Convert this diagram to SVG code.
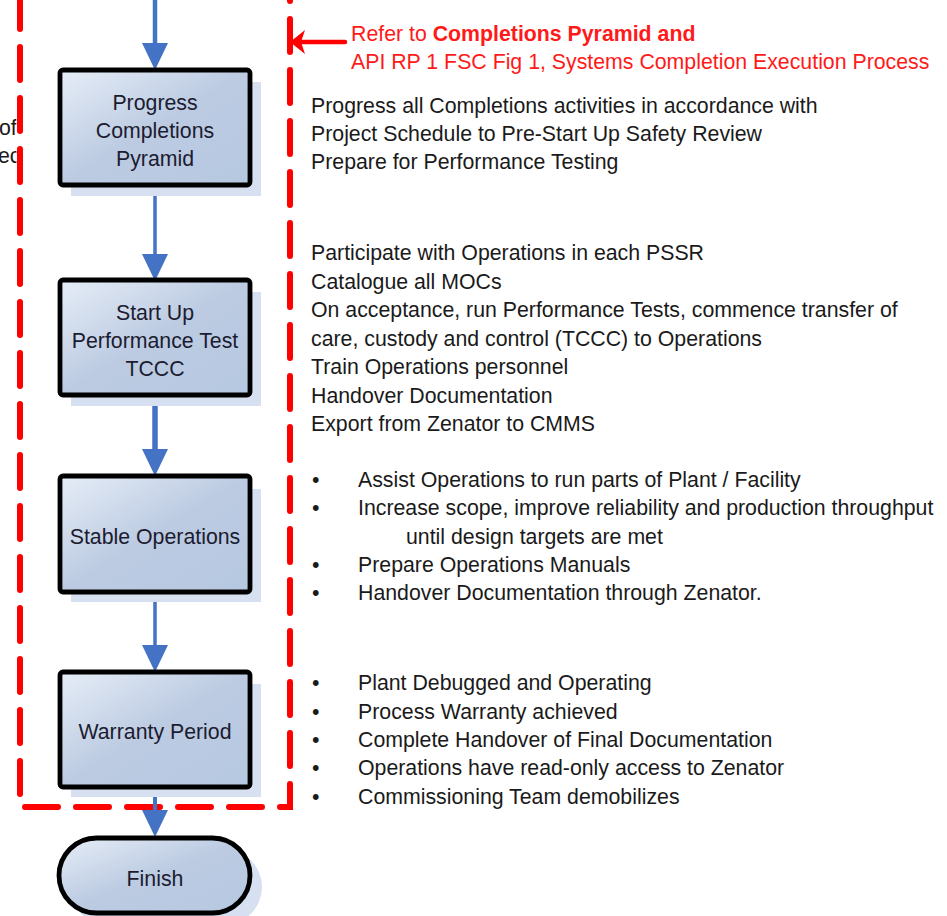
<svg xmlns="http://www.w3.org/2000/svg" width="947" height="916" viewBox="0 0 947 916">
<defs>
<linearGradient id="boxfill" x1="0" y1="0" x2="1" y2="1">
<stop offset="0" stop-color="#e6edf7"/>
<stop offset="0.5" stop-color="#bccbe2"/>
<stop offset="1" stop-color="#b6c8e1"/>
</linearGradient>
<clipPath id="leftclip"><rect x="0" y="100" width="16.5" height="80"/></clipPath>
<style>
.box{fill:url(#boxfill);stroke:#000;stroke-width:4.8}
.shadow{fill:#d6e0f0}
.lbl{font-family:"Liberation Sans",Arial,sans-serif;font-size:21.3px;fill:#1c1c30;text-anchor:middle}
.txt{font-family:"Liberation Sans",Arial,sans-serif;font-size:21.3px;fill:#1a1a1a}
.red{font-family:"Liberation Sans",Arial,sans-serif;font-size:21.3px;fill:#ff1a1a}
.conn{stroke:#4472c4;fill:none}
.head{fill:#4472c4}
</style>
</defs>
<rect width="947" height="916" fill="#ffffff"/>

<g id="left-fragment" clip-path="url(#leftclip)">
<text class="txt" x="-1" y="135">of</text>
<text class="txt" x="-2" y="163">ec</text>
</g>

<g id="boundary">
<path d="M290,-30 L290,807 L20,807 L20,-30" fill="none" stroke="#ff0000" stroke-width="6" stroke-linecap="round" stroke-dasharray="33 18" stroke-dashoffset="2"/>
<line x1="301" y1="42" x2="345" y2="42" stroke="#ff0000" stroke-width="4.5" stroke-linecap="round"/>
<polygon points="290,42 305,30 301,42 305,54" fill="#ff0000"/>
</g>

<g id="reference-note">
<text class="red" x="351" y="41">Refer to <tspan font-weight="bold">Completions Pyramid and</tspan></text>
<text class="red" x="351" y="69">API RP 1 FSC Fig 1, Systems Completion Execution Process</text>
</g>

<g id="connectors">
<line class="conn" x1="155" y1="0" x2="155" y2="46" stroke-width="4.5"/>
<polygon class="head" points="142,43 168,43 155,70"/>
<line class="conn" x1="155" y1="185" x2="155" y2="258" stroke-width="3.5"/>
<polygon class="head" points="142,254 168,254 155,281"/>
<line class="conn" x1="155" y1="395" x2="155" y2="452" stroke-width="5.5"/>
<polygon class="head" points="142,449 168,449 155,476"/>
<line class="conn" x1="155" y1="592" x2="155" y2="648" stroke-width="3.5"/>
<polygon class="head" points="142,645 168,645 155,672"/>
<line class="conn" x1="155" y1="787" x2="155" y2="813" stroke-width="4"/>
<polygon class="head" points="142,810 168,810 155,837"/>
</g>

<g id="node-progress">
<rect class="shadow" x="71" y="82" width="190" height="114"/>
<rect class="box" x="60" y="70" width="190" height="115" rx="3"/>
<text class="lbl" x="155" y="110">Progress</text>
<text class="lbl" x="155" y="138">Completions</text>
<text class="lbl" x="155" y="166">Pyramid</text>
</g>

<g id="node-startup">
<rect class="shadow" x="71" y="292" width="190" height="114"/>
<rect class="box" x="60" y="280" width="190" height="115" rx="3"/>
<text class="lbl" x="155" y="320">Start Up</text>
<text class="lbl" x="155" y="348">Performance Test</text>
<text class="lbl" x="155" y="376">TCCC</text>
</g>

<g id="node-stable">
<rect class="shadow" x="71" y="489" width="190" height="113"/>
<rect class="box" x="60" y="476" width="190" height="116" rx="3"/>
<text class="lbl" x="155" y="544">Stable Operations</text>
</g>

<g id="node-warranty">
<rect class="shadow" x="71" y="684" width="190" height="113"/>
<rect class="box" x="60" y="672" width="190" height="115" rx="3"/>
<text class="lbl" x="155" y="739">Warranty Period</text>
</g>

<g id="node-finish">
<rect class="shadow" x="70" y="849" width="192" height="76" rx="38"/>
<rect class="box" x="59" y="838" width="191" height="75" rx="37.5"/>
<text class="lbl" x="155" y="886">Finish</text>
</g>

<g id="notes-progress">
<text class="txt" x="311" y="113">Progress all Completions activities in accordance with</text>
<text class="txt" x="311" y="141">Project Schedule to Pre-Start Up Safety Review</text>
<text class="txt" x="311" y="169">Prepare for Performance Testing</text>
</g>

<g id="notes-startup">
<text class="txt" x="311" y="260">Participate with Operations in each PSSR</text>
<text class="txt" x="311" y="289">Catalogue all MOCs</text>
<text class="txt" x="311" y="317">On acceptance, run Performance Tests, commence transfer of</text>
<text class="txt" x="311" y="346">care, custody and control (TCCC) to Operations</text>
<text class="txt" x="311" y="374">Train Operations personnel</text>
<text class="txt" x="311" y="403">Handover Documentation</text>
<text class="txt" x="311" y="431">Export from Zenator to CMMS</text>
</g>

<g id="notes-stable">
<text class="txt" x="312" y="487">•</text>
<text class="txt" x="358" y="487">Assist Operations to run parts of Plant / Facility</text>
<text class="txt" x="312" y="515">•</text>
<text class="txt" x="358" y="515">Increase scope, improve reliability and production throughput</text>
<text class="txt" x="406" y="544">until design targets are met</text>
<text class="txt" x="312" y="572">•</text>
<text class="txt" x="358" y="572">Prepare Operations Manuals</text>
<text class="txt" x="312" y="600">•</text>
<text class="txt" x="358" y="600">Handover Documentation through Zenator.</text>
</g>

<g id="notes-warranty">
<text class="txt" x="312" y="690">•</text>
<text class="txt" x="358" y="690">Plant Debugged and Operating</text>
<text class="txt" x="312" y="719">•</text>
<text class="txt" x="358" y="719">Process Warranty achieved</text>
<text class="txt" x="312" y="747">•</text>
<text class="txt" x="358" y="747">Complete Handover of Final Documentation</text>
<text class="txt" x="312" y="775">•</text>
<text class="txt" x="358" y="775">Operations have read-only access to Zenator</text>
<text class="txt" x="312" y="804">•</text>
<text class="txt" x="358" y="804">Commissioning Team demobilizes</text>
</g>
</svg>
